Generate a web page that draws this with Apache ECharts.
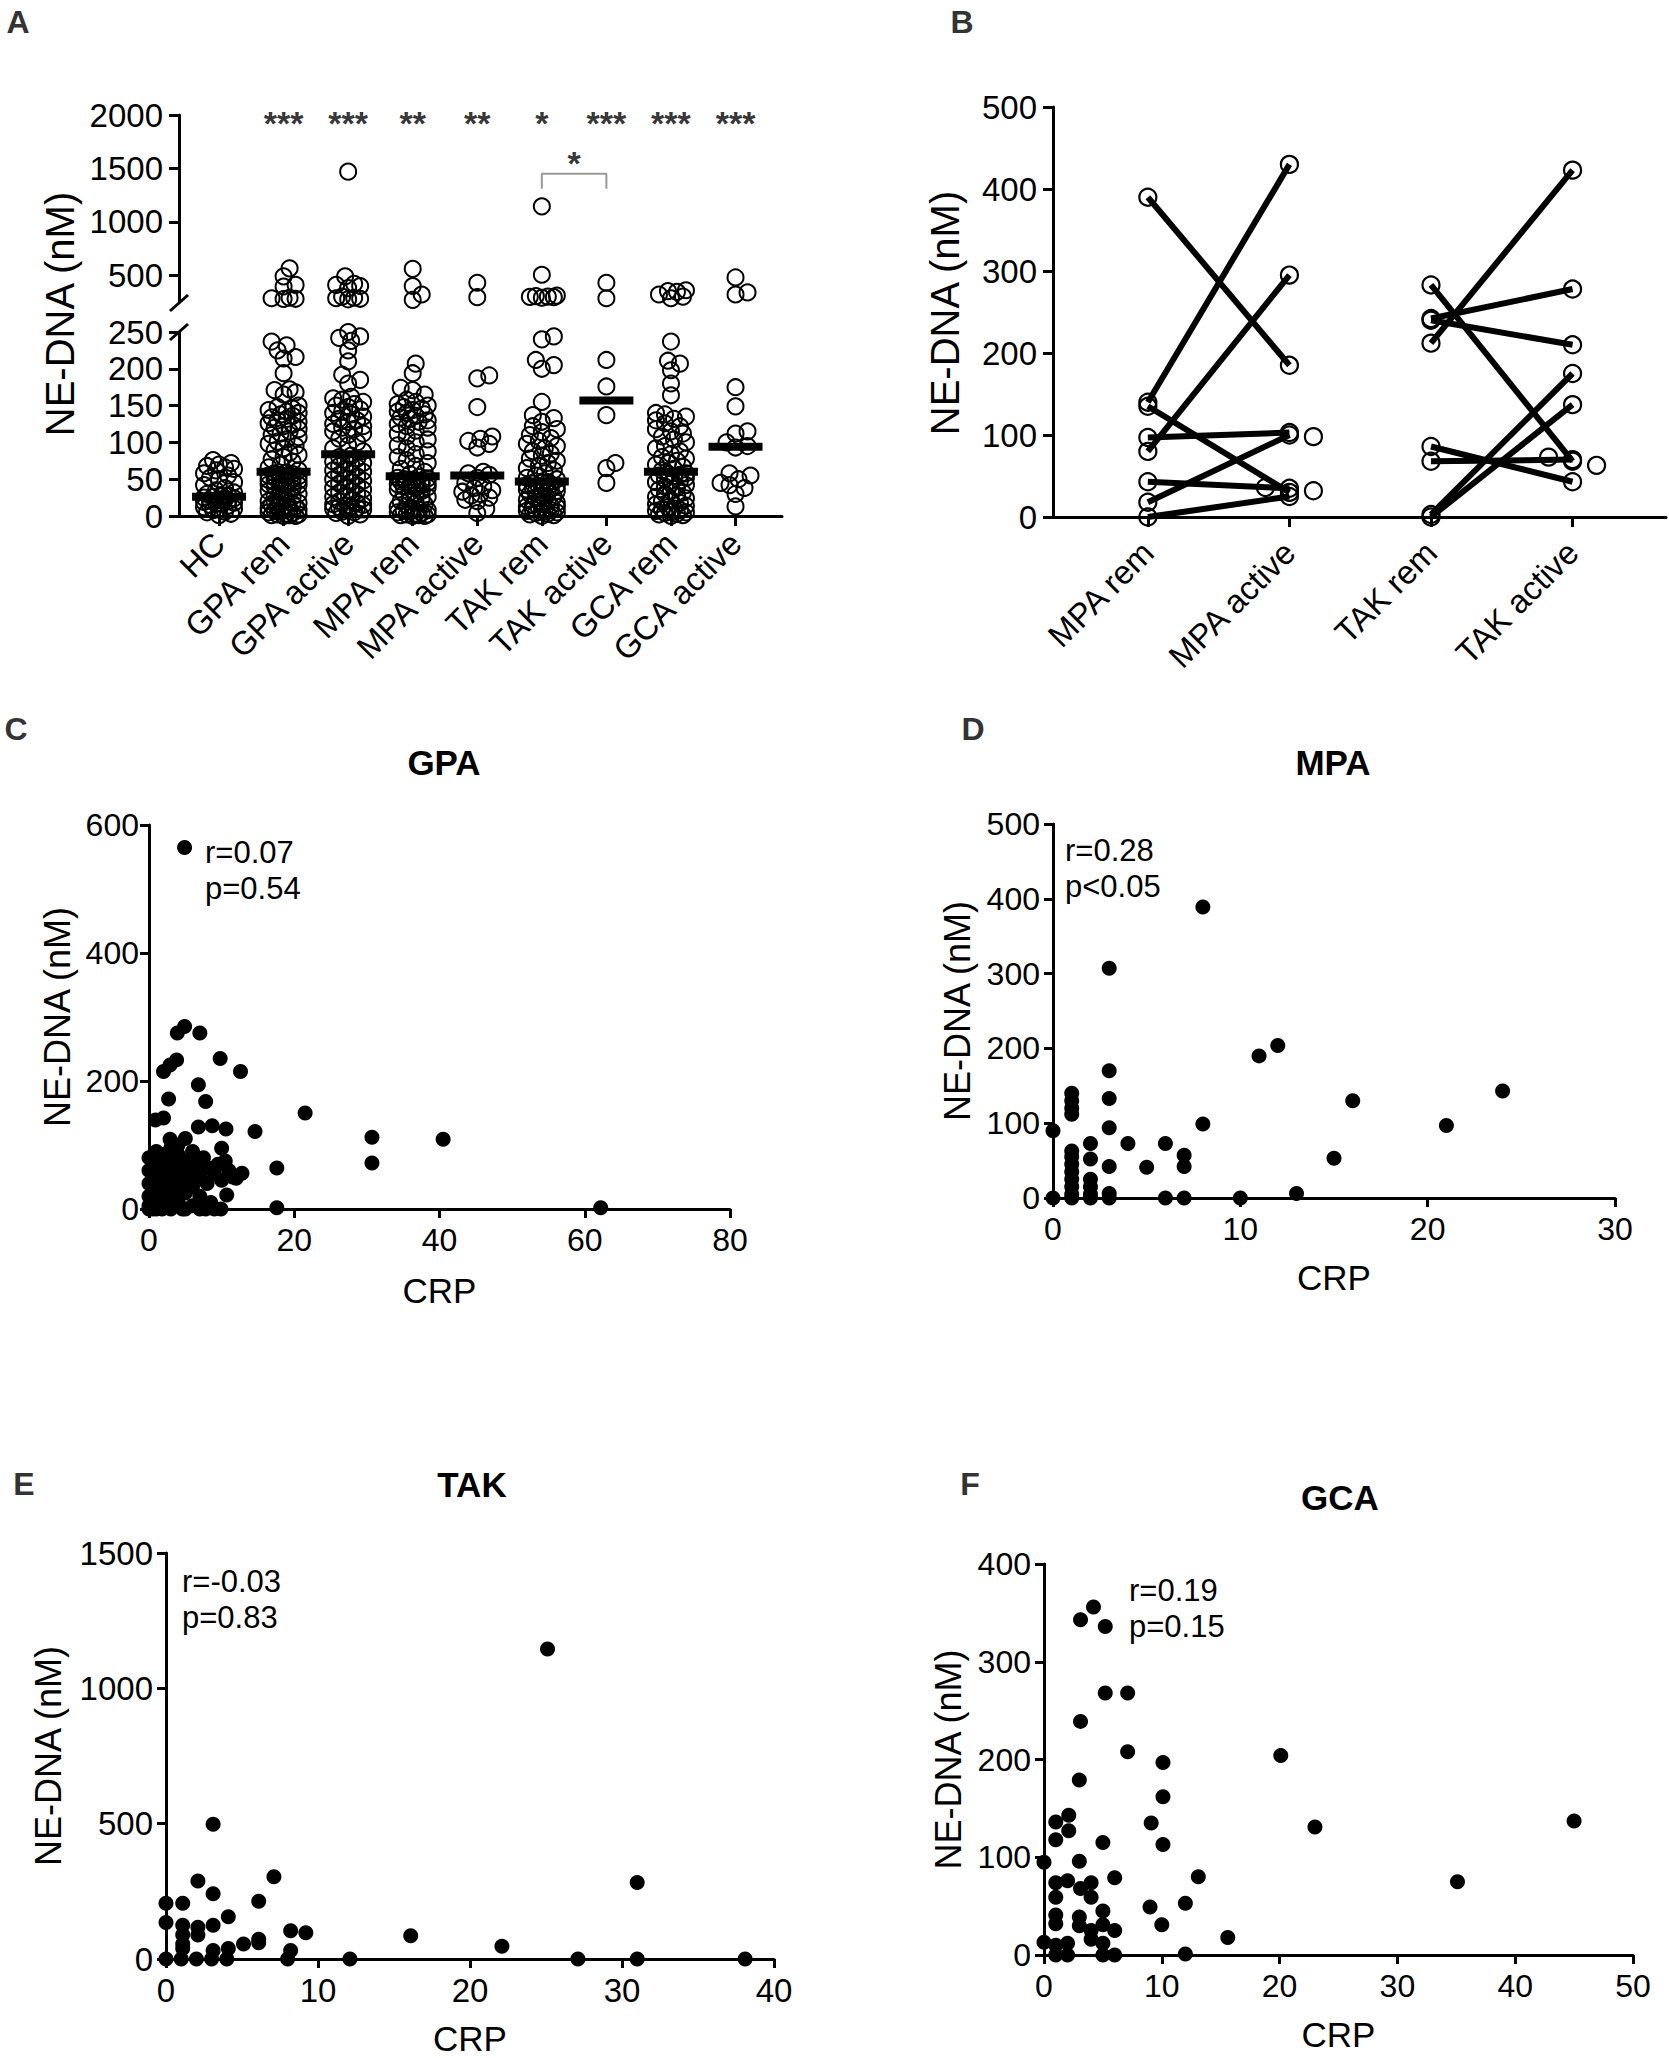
<!DOCTYPE html>
<html><head><meta charset="utf-8">
<script src="https://cdn.jsdelivr.net/npm/echarts@6/dist/echarts.min.js"></script>
<style>html,body{margin:0;padding:0;background:#fff}#main{width:1669px;height:2058px}</style>
</head><body><div id="main"></div>
<script>
// ---------------- DATA ----------------
const catsA = ['HC','GPA rem','GPA active','MPA rem','MPA active','TAK rem','TAK active','GCA rem','GCA active'];
const hc = [76,72,70,68,66,64,62,58,55,52,50,46,42,38,35,32,30,28,27,26,25,24,23,22,21,20,19,18,17,16,15,14,12,10,9,8,6,5,3,1];
const gpaRem = [565,490,410,395,290,285,280,278,237,232,225,216,214,194,172,171,168,165,
  150,148,146,144,142,140,138,136,134,132,130,128,126,124,122,120,118,115,112,110,107,104,101,98,95,92,89,86,83,80,77,74,70,66,62,
  59,58,57,56,55,54,53,52,51,50,49,48,47,46,45,44,43,42,41,40,38,36,34,32,30,28,26,24,22,20,19,18,17,16,15,14,13,12,11,10,9,8,7,6,5,4,3,2,2,1,1,0,0];
const gpaActive = [1470,490,420,410,400,380,300,290,285,280,275,250,244,242,238,225,210,192,185,180,162,160,
  158,155,152,150,148,145,142,140,138,135,132,130,128,125,122,120,118,115,112,110,105,100,96,92,88,
  82,80,78,76,74,72,70,68,66,64,62,60,58,56,54,52,50,48,46,44,42,40,38,36,34,32,30,28,26,24,22,20,18,16,15,14,13,12,11,10,9,8,6,5,4,2,0];
const mpaRem = [560,400,320,270,207,194,174,171,165,
  158,155,152,150,148,146,144,142,140,138,136,134,132,130,128,125,122,120,116,112,108,104,100,96,92,88,84,80,76,72,68,64,60,57,
  53,52,51,50,49,48,47,46,45,44,43,42,41,40,39,38,36,34,32,30,28,26,24,22,20,18,16,14,12,10,9,8,7,6,5,4,3,2,2,1,1,0,0];
const mpaActive = [430,295,191,187,148,108,105,102,98,93,60,58,56,52,45,40,38,35,33,30,28,25,22,20,10,4];
const takRem = [1145,505,310,305,300,298,295,290,244,240,212,205,200,155,137,133,128,
  122,118,114,110,106,102,98,95,92,88,85,82,78,75,72,68,65,62,58,55,52,50,
  46,45,44,43,42,41,40,39,38,37,36,35,34,33,32,30,28,26,24,22,20,18,16,15,14,13,12,11,10,9,8,7,6,5,4,3,2,1,0];
const takActive = [430,285,212,176,137,72,65,45];
const gcaRem = [360,352,345,320,300,285,237,211,207,198,180,164,
  140,138,135,132,130,126,122,118,115,112,108,104,100,95,92,88,84,80,78,75,72,70,67,64,62,
  58,57,56,55,54,52,50,48,46,44,42,40,38,36,34,32,30,28,26,24,22,20,18,16,14,12,10,9,8,7,6,5,4,3,2,1,0];
const gcaActive = [480,340,320,175,149,115,112,100,95,93,58,55,50,45,42,38,30,13];
const groupsA = [hc, gpaRem, gpaActive, mpaRem, mpaActive, takRem, takActive, gcaRem, gcaActive];
const mediansA = [26,60,84,54,55,47,157,60,94];
const sigA = ['','***','***','**','**','*','***','***','***'];
const ticksAUpper = [500,1000,1500,2000];
const ticksALower = [0,50,100,150,200,250];
const bracketA = [[5,1310],[5,1450],[6,1450],[6,1310]];
const bracketLabelA = '*';

const catsB = ['MPA rem','MPA active','TAK rem','TAK active'];
const mpaPairs = [[390,185],[140,430],[80,295],[97,103],[135,30],[43,35],[18,100],[0,25]];
const mpaActiveExtra = [98,36,32];
const takPairs = [[212,423],[242,278],[240,210],[283,68],[86,43],[68,70],[3,175],[0,137]];
const takActiveExtra = [73,63];

const gpaScatter = [[4.9,565],[3.9,275],[4.9,285],[7,275],[3.8,233],[2.9,225],[2.0,215],[9.8,235],[12.6,215],[6.8,194],
  [2.7,172],[7.8,168],[0.9,139],[2.0,142],[21.5,150],[14.6,121],[6.8,128],[8.7,130],[10.6,125],[2.9,109],[17.6,64],[17.6,2],
  [12.8,56],[10.7,22],[30.7,112],[30.7,72],[40.5,109],[62.2,2],[9.9,0],[7.8,0],[4.6,0],[1.8,0],[0.5,0],[0,0],
  [0,80],[0,60],[0,40],[0,20],[0,5],[0.5,70],[0.5,50],[0.5,30],[1,90],[1,75],[1,55],[1,35],[1,15],[1,0],[1.5,65],[1.5,45],
  [1.5,25],[2,85],[2,60],[2,40],[2,10],[2.5,70],[2.5,30],[3,95],[3,75],[3,50],[3,20],[3,0],[3.5,60],[3.5,40],[4,85],[4,100],
  [4,65],[4,30],[4,10],[4.5,50],[5,75],[5,55],[5,110],[5,25],[5,0],[5.5,40],[6,90],[6,60],[6,35],[6,5],[6.5,70],[7,50],[7,20],
  [7,0],[7.5,80],[8,65],[8,40],[8.5,10],[9,55],[9,0],[9.5,70],[10,45],[10,95],[10.5,75],[11,60],[11.5,50],[12,48]];
const mpaScatter = [[8,389],[3,307],[3,170],[3,133],[3,94],[3,42],[3,6],[3,0],[11,190],[12,204],[8,99],[4,73],[6,73],[5,41],
  [7,57],[7,42],[7,0],[6,0],[10,0],[13,6],[15,53],[16,130],[21,97],[24,143],[0,90],[0,0],[1,140],[1,130],[1,120],[1,112],
  [1,63],[1,55],[1,45],[1,35],[1,25],[1,15],[1,5],[1,0],[2,73],[2,52],[2,25],[2,15],[2,5],[2,0]];
const takScatter = [[25.1,1145],[3.1,498],[31,283],[7.1,304],[2.1,288],[3.1,241],[6.1,213],[0,206],[1.1,206],[4.1,156],
  [0,135],[1.1,125],[2.1,117],[3.1,125],[1.1,90],[2.1,89],[8.2,104],[9.2,97],[6.1,73],[5.1,55],[4.1,39],[3.1,31],[8.2,31],
  [16.1,86],[22.1,47],[0,0],[1,0],[2,0],[3,0],[4,0],[8,0],[12.1,0],[27.1,0],[31,0],[38.1,0],[1.1,39],[1.1,55],[6.1,60]];
const gcaScatter = [[4.2,356],[3.1,343],[5.2,336],[5.2,268],[7.1,268],[3.1,239],[7.1,208],[10.1,197],[10.1,162],[3,179],
  [20.1,204],[23,131],[45,137],[35.1,75],[9.1,135],[10.1,113],[5,115],[13.1,80],[6,79],[9,49],[12,53],[10,31],[15.6,18],
  [12,1],[0,95],[3,96],[1,136],[2.1,143],[2.1,127],[1,118],[1,74],[2,76],[3.1,68],[4,74],[4,59],[1,59],[5,45],[1,41],[1,32],
  [3,39],[3,30],[4,25],[5,31],[6,25],[0,13],[1,10],[2,12],[4,16],[5,12],[1,0],[2,0],[5,0],[6,0]];
const statsText = {C:['r=0.07','p=0.54'], D:['r=0.28','p<0.05'], E:['r=-0.03','p=0.83'], F:['r=0.19','p=0.15']};

// ---------------- LAYOUT ----------------
const FONT = '"Liberation Sans", Arial, Helvetica, sans-serif';
const G = {
  aUp:  {left:179, top:115, width:603, height:187},
  aLow: {left:179, top:332, width:603, height:184},
  b:    {left:1053, top:107, width:613, height:410},
  c:    {left:149, top:825, width:581, height:384},
  d:    {left:1053, top:824, width:562, height:374},
  e:    {left:166, top:1553, width:608, height:406},
  f:    {left:1044, top:1564, width:589, height:391}
};
const A_XMIN = -0.62, A_XMAX = 8.72;
const B_XMIN = -0.67, B_XMAX = 3.66;

function swarm(vals, pyFn, fixed, d, step, maxOff) {
  const placed = fixed ? fixed.slice() : [];
  const order = vals.map((v, i) => i).sort((a, b) => vals[a] - vals[b]);
  const offs = new Array(vals.length).fill(0);
  const n = Math.floor(maxOff / step);
  for (const i of order) {
    const py = pyFn(vals[i]);
    let best = 0, bestD = -1;
    for (let k = 0; k <= 2 * n; k++) {
      const o = k === 0 ? 0 : (k % 2 === 1 ? 1 : -1) * Math.ceil(k / 2) * step;
      let m = Infinity;
      for (const p of placed) { const dd = Math.hypot(p[0] - o, p[1] - py); if (dd < m) m = dd; }
      if (m >= d) { best = o; break; }
      if (m > bestD) { bestD = m; best = o; }
    }
    placed.push([best, py]); offs[i] = best;
  }
  return offs;
}

function aPy(v) {
  return v > 250 ? G.aUp.top + G.aUp.height * (1 - (v - 250) / 1750) : G.aLow.top + G.aLow.height * (1 - v / 250);
}
const pxPerA = G.aLow.width / (A_XMAX - A_XMIN);
const aUpperPts = [], aLowerPts = [];
groupsA.forEach((vals, i) => {
  const offs = swarm(vals, aPy, null, 10, 3, 16);
  vals.forEach((v, j) => {
    const pt = [i + offs[j] / pxPerA, v];
    (v > 250 ? aUpperPts : aLowerPts).push(pt);
  });
});

function bPy(v) { return G.b.top + G.b.height * (1 - v / 500); }
const pxPerB = G.b.width / (B_XMAX - B_XMIN);
const bPts = [];
const bLines = [];
[[mpaPairs, mpaActiveExtra, 0], [takPairs, takActiveExtra, 2]].forEach(([pairs, extra, x0]) => {
  pairs.forEach(p => {
    bLines.push([[x0, p[0]], [x0 + 1, p[1]]]);
    bPts.push([x0, p[0]]); bPts.push([x0 + 1, p[1]]);
  });
  const fixed = pairs.map(p => [0, bPy(p[1])]);
  const offs = swarm(extra, bPy, fixed, 14, 12, 36);
  extra.forEach((v, j) => bPts.push([x0 + 1 + offs[j] / pxPerB, v]));
});

// ---------------- OPTION ----------------
const plain = v => String(v);
function line() { return {show: true, onZero: false, lineStyle: {color: '#000', width: 3}}; }
function tick(len, custom) { const t = {show: true, length: len, inside: false, lineStyle: {color: '#000', width: 3}}; if (custom) t.customValues = custom; return t; }
function lab(fs, margin, extra) { return Object.assign({color: '#000', fontSize: fs, fontFamily: FONT, margin: margin, formatter: plain}, extra || {}); }
function gridOf(g) { return {left: g.left, top: g.top, width: g.width, height: g.height, containLabel: false, outerBoundsMode: 'none'}; }
const noSplit = {show: false};
const xName = (gap) => ({name: 'CRP', nameLocation: 'middle', nameGap: gap, nameMoveOverlap: false,
  nameTextStyle: {fontSize: 35, fontFamily: FONT, color: '#000'}});
const yName = (gap) => ({name: 'NE-DNA (nM)', nameLocation: 'middle', nameGap: gap, nameMoveOverlap: false,
  nameTextStyle: {fontSize: 36, fontFamily: FONT, color: '#000'}});

const xAxis = [
  {gridIndex: 0, type: 'value', min: A_XMIN, max: A_XMAX, show: false},
  {gridIndex: 1, type: 'value', min: A_XMIN, max: A_XMAX, axisLine: line(), splitLine: noSplit,
    axisTick: tick(10, catsA.map((c, i) => i)),
    axisLabel: lab(33, 22, {rotate: 45, customValues: catsA.map((c, i) => i), formatter: v => catsA[Math.round(v)]})},
  {gridIndex: 2, type: 'value', min: B_XMIN, max: B_XMAX, axisLine: line(), splitLine: noSplit,
    axisTick: tick(10, catsB.map((c, i) => i)),
    axisLabel: lab(33, 30, {rotate: 45, customValues: catsB.map((c, i) => i), formatter: v => catsB[Math.round(v)]})},
  Object.assign({gridIndex: 3, type: 'value', min: 0, max: 80, interval: 20, axisLine: line(), splitLine: noSplit,
    axisTick: tick(9), axisLabel: lab(32, 15)}, xName(64)),
  Object.assign({gridIndex: 4, type: 'value', min: 0, max: 30, interval: 10, axisLine: line(), splitLine: noSplit,
    axisTick: tick(9), axisLabel: lab(32, 15)}, xName(62)),
  Object.assign({gridIndex: 5, type: 'value', min: 0, max: 40, interval: 10, axisLine: line(), splitLine: noSplit,
    axisTick: tick(9), axisLabel: lab(33, 15)}, xName(62)),
  Object.assign({gridIndex: 6, type: 'value', min: 0, max: 50, interval: 10, axisLine: line(), splitLine: noSplit,
    axisTick: tick(9), axisLabel: lab(32, 15)}, xName(62))
];
const yAxis = [
  {gridIndex: 0, type: 'value', min: 250, max: 2000, axisLine: line(), splitLine: noSplit,
    axisTick: tick(10, ticksAUpper), axisLabel: lab(33, 16, {customValues: ticksAUpper})},
  {gridIndex: 1, type: 'value', min: 0, max: 250, axisLine: line(), splitLine: noSplit,
    axisTick: tick(10, ticksALower), axisLabel: lab(33, 16, {customValues: ticksALower})},
  {gridIndex: 2, type: 'value', min: 0, max: 500, interval: 100, axisLine: line(), splitLine: noSplit,
    axisTick: tick(10), axisLabel: lab(33, 16)},
  Object.assign({gridIndex: 3, type: 'value', min: 0, max: 600, interval: 200, axisLine: line(), splitLine: noSplit,
    axisTick: tick(9), axisLabel: lab(32, 10)}, yName(74)),
  Object.assign({gridIndex: 4, type: 'value', min: 0, max: 500, interval: 100, axisLine: line(), splitLine: noSplit,
    axisTick: tick(9), axisLabel: lab(32, 13)}, yName(78)),
  Object.assign({gridIndex: 5, type: 'value', min: 0, max: 1500, interval: 500, axisLine: line(), splitLine: noSplit,
    axisTick: tick(9), axisLabel: lab(33, 13)}, yName(100)),
  Object.assign({gridIndex: 6, type: 'value', min: 0, max: 400, interval: 100, axisLine: line(), splitLine: noSplit,
    axisTick: tick(9), axisLabel: lab(32, 13)}, yName(78))
];

const openCircle = {color: 'rgba(0,0,0,0)', borderColor: '#000', borderWidth: 2, opacity: 1};
const starLabel = {show: true, position: 'inside', formatter: '{b}', fontSize: 34, fontWeight: 'bold', fontFamily: FONT, color: '#000'};
const series = [
  {type: 'scatter', xAxisIndex: 0, yAxisIndex: 0, data: aUpperPts, symbol: 'circle', symbolSize: 16, itemStyle: openCircle, clip: false},
  {type: 'scatter', xAxisIndex: 1, yAxisIndex: 1, data: aLowerPts, symbol: 'circle', symbolSize: 16, itemStyle: openCircle, clip: false},
  {type: 'scatter', xAxisIndex: 1, yAxisIndex: 1, data: mediansA.map((m, i) => [i, m]), symbol: 'rect', symbolSize: [54, 8],
    itemStyle: {color: '#000', opacity: 1}, z: 5},
  {type: 'scatter', xAxisIndex: 0, yAxisIndex: 0, symbolSize: 1, itemStyle: {color: 'rgba(0,0,0,0)'},
    data: sigA.map((s, i) => ({value: [i, 1925], name: s})).filter(d => d.name),
    label: starLabel, z: 6},
  {type: 'line', xAxisIndex: 0, yAxisIndex: 0, data: bracketA, symbol: 'none', lineStyle: {color: '#999', width: 2}},
  {type: 'scatter', xAxisIndex: 0, yAxisIndex: 0, symbolSize: 1, itemStyle: {color: 'rgba(0,0,0,0)'},
    data: [{value: [(bracketA[0][0] + bracketA[2][0]) / 2, 1555], name: bracketLabelA}],
    label: starLabel},
  ...bLines.map(d => ({type: 'line', xAxisIndex: 2, yAxisIndex: 2, data: d, symbol: 'none',
    lineStyle: {color: '#000', width: 6}, z: 2})),
  {type: 'scatter', xAxisIndex: 2, yAxisIndex: 2, data: bPts, symbol: 'circle', symbolSize: 17,
    itemStyle: {color: 'rgba(0,0,0,0)', borderColor: '#000', borderWidth: 2.2, opacity: 1}, z: 3, clip: false},
  ...[gpaScatter, mpaScatter, takScatter, gcaScatter].map((d, k) => ({type: 'scatter', xAxisIndex: 3 + k, yAxisIndex: 3 + k,
    data: d, symbol: 'circle', symbolSize: 15, itemStyle: {color: '#000', opacity: 1}, clip: false}))
];

function txt(x, y, text, font, align, color) {
  return {type: 'text', x: x, y: y, z: 10, style: {text: text, font: font, fill: color || '#000',
    align: align || 'center', textAlign: align || 'center', verticalAlign: 'middle', textVerticalAlign: 'middle'}};
}
const letterFont = 'bold 32px ' + FONT;
const titleFont = 'bold 35px ' + FONT;
const statFont = '31px ' + FONT;
const graphic = [
  txt(18, 22, 'A', letterFont, 'center', '#333'),
  txt(962, 22, 'B', letterFont, 'center', '#333'),
  txt(16, 729, 'C', letterFont, 'center', '#333'),
  txt(973, 729, 'D', letterFont, 'center', '#333'),
  txt(24, 1484, 'E', letterFont, 'center', '#333'),
  txt(970, 1484, 'F', letterFont, 'center', '#333'),
  txt(444, 762, 'GPA', titleFont), txt(1333, 762, 'MPA', titleFont),
  txt(472, 1484, 'TAK', titleFont), txt(1340, 1497, 'GCA', titleFont),
  txt(205, 852, statsText.C[0], statFont, 'left'), txt(205, 888, statsText.C[1], statFont, 'left'),
  txt(1065, 850, statsText.D[0], statFont, 'left'), txt(1065, 886, statsText.D[1], statFont, 'left'),
  txt(182, 1581, statsText.E[0], statFont, 'left'), txt(182, 1617, statsText.E[1], statFont, 'left'),
  txt(1129, 1590, statsText.F[0], statFont, 'left'), txt(1129, 1626, statsText.F[1], statFont, 'left'),
  Object.assign(txt(60, 314, 'NE-DNA (nM)', '40px ' + FONT), {rotation: Math.PI / 2}),
  Object.assign(txt(945, 313, 'NE-DNA (nM)', '40px ' + FONT), {rotation: Math.PI / 2}),
  {type: 'line', shape: {x1: 170, y1: 311, x2: 188, y2: 295}, style: {stroke: '#000', lineWidth: 3}, z: 10},
  {type: 'line', shape: {x1: 170, y1: 340, x2: 188, y2: 324}, style: {stroke: '#000', lineWidth: 3}, z: 10}
];

const chart = echarts.init(document.getElementById('main'), null, {renderer: 'svg', width: 1669, height: 2058});
chart.setOption({
  animation: false,
  backgroundColor: '#fff',
  grid: [gridOf(G.aUp), gridOf(G.aLow), gridOf(G.b), gridOf(G.c), gridOf(G.d), gridOf(G.e), gridOf(G.f)],
  xAxis: xAxis, yAxis: yAxis, series: series, graphic: graphic
});
</script></body></html>
